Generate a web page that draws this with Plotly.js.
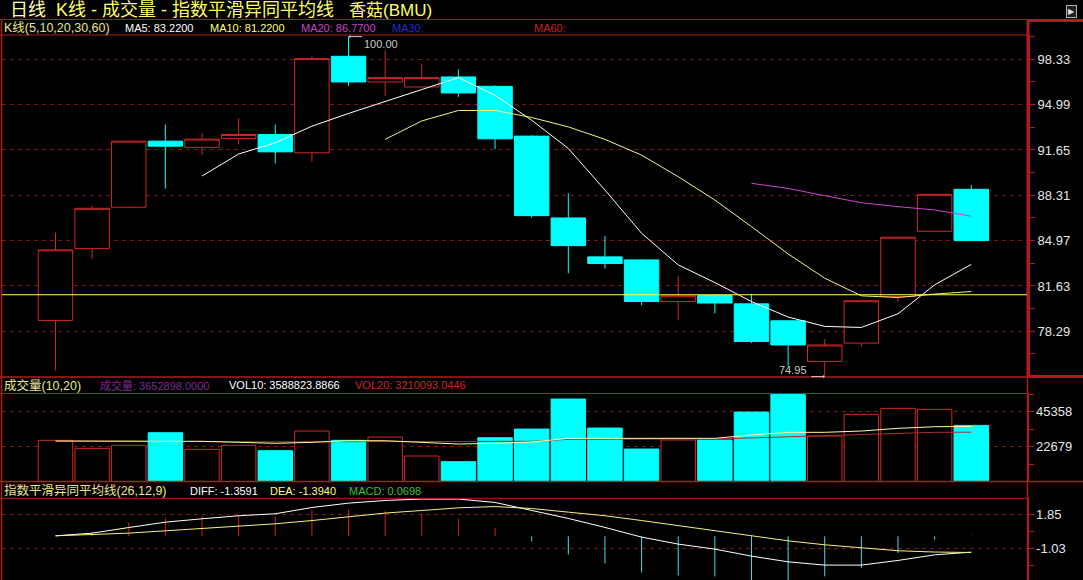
<!DOCTYPE html>
<html><head><meta charset="utf-8">
<script src="https://cdn.plot.ly/plotly-3.0.1.min.js"></script>
<style>html,body{margin:0;padding:0;background:#000;overflow:hidden}#chart{width:1083px;height:580px}</style>
</head><body><div id="chart"></div>
<script>
// ---------- data ----------
const open  = [79.09,84.38,87.43,92.30,91.84,92.50,92.79,91.44,98.55,96.66,96.29,97.03,96.34,92.67,86.64,83.77,83.55,80.48,80.93,80.31,79.06,76.07,77.42,80.85,85.66,88.75];
const high  = [85.56,87.54,92.35,93.53,92.91,93.97,93.53,98.55,100.00,98.99,98.01,97.59,96.40,92.72,88.45,85.32,83.60,82.37,80.98,81.05,79.10,77.72,80.60,85.25,88.40,89.07];
const low   = [75.41,83.60,87.40,88.79,91.29,92.06,90.66,90.78,96.37,95.63,96.25,95.56,91.71,86.66,82.57,82.91,80.22,79.09,79.60,77.42,75.70,74.95,77.17,80.48,85.60,84.95];
const close = [84.29,87.35,92.30,91.93,92.45,92.79,91.51,98.38,96.66,96.98,96.98,95.85,92.47,86.81,84.60,83.28,80.48,80.90,80.37,77.54,77.28,77.28,80.54,85.22,88.38,84.97];
const ma5  = [null,null,null,null,89.73,91.35,92.18,93.40,94.34,95.24,96.10,96.98,95.68,93.84,91.76,88.70,85.51,83.18,81.88,80.48,79.34,78.65,78.57,79.58,81.71,83.22];
const ma10 = [null,null,null,null,null,null,null,null,null,92.43,93.79,94.56,94.56,94.04,93.35,92.43,91.27,89.68,87.96,86.00,83.99,82.20,80.90,80.78,81.03,81.22];
const ma20 = [null,null,null,null,null,null,null,null,null,null,null,null,null,null,null,null,null,null,null,89.19,88.82,88.28,87.76,87.47,87.23,86.77];
const refPrice = 80.98;
// volume (in hundreds, as on the axis)
const vol   = [26800,21600,23550,31750,20950,23550,20050,32850,26800,28950,16600,12900,28500,34150,53700,34800,21150,27000,27000,45230,56698,29600,43730,47630,46980,36529];
const vol10 = [26360,26360,26300,26160,26160,25510,24860,25510,26550,26550,25510,24400,24860,25700,28100,28100,27660,27660,28100,30260,32020,32020,32870,34620,35660,35888];
const vol20 = [26360,26200,26100,26000,25950,25900,25850,25900,26000,26050,26000,25900,25950,26160,27460,27660,27660,27660,27660,28310,28960,29610,30460,31370,32020,32101];
// MACD
const diff = [0.04,0.27,0.75,1.21,1.50,1.76,1.93,2.47,2.84,3.07,3.19,3.19,2.90,2.20,1.53,0.76,-0.07,-0.67,-1.10,-1.70,-2.19,-2.47,-2.47,-2.07,-1.59,-1.36];
const dea  = [0.04,0.13,0.27,0.47,0.67,0.87,1.07,1.35,1.70,1.99,2.21,2.44,2.55,2.38,2.07,1.76,1.35,0.90,0.47,0.04,-0.39,-0.73,-1.01,-1.24,-1.35,-1.39];
const macd = [0,0.33,1.18,1.56,1.76,1.82,1.70,2.27,2.27,2.16,1.93,1.50,0.73,-0.44,-1.56,-2.33,-3.10,-3.36,-3.44,-3.90,-4.00,-3.44,-2.73,-1.44,-0.30,0.07];
// tick labels
const priceTicks = [78.29,81.63,84.97,88.31,91.65,94.99,98.33];
const volTicks = [22679,45358];
const macdTicks = [-1.03,1.85];
const days = open.map((_, i) => i);

// ---------- styles ----------
const W = 1083, H = 580;
const RED = '#d02828', CYAN = '#00ffff', BORDER = '#b01c1c', GRID = '#7e1818';
const FONT = 'Liberation Sans, Arial, Noto Sans CJK SC, sans-serif';
const px = x => x / W, py = y => 1 - y / H;

const up = days.map(i => close[i] >= open[i]);
const mids = t => { const r = []; for (let i = 0; i < t.length; i++) { const d = i ? t[i]-t[i-1] : t[1]-t[0]; r.push(+(t[i]-d/2).toFixed(3)); } r.push(+(t[t.length-1] + (t[1]-t[0])/2).toFixed(3)); return r; };

const traces = [];
traces.push({type:'candlestick', x:days, open, high, low, close, xaxis:'x', yaxis:'y',
  increasing:{line:{color:RED,width:1}, fillcolor:'#000000'},
  decreasing:{line:{color:CYAN,width:1}, fillcolor:CYAN},
  whiskerwidth:0, hoverinfo:'skip'});
const line = (y, color, ax) => ({type:'scatter', mode:'lines', x:days, y, yaxis:ax, line:{color, width:1}, hoverinfo:'skip', connectgaps:false});
traces.push(line(ma5, '#ffffff', 'y'));
traces.push(line(ma10, '#f4f47a', 'y'));
traces.push(line(ma20, '#d040d0', 'y'));
traces.push({type:'bar', x:days, y:vol, yaxis:'y2',
  marker:{color: up.map(u => u ? '#000000' : CYAN), line:{color: up.map(u => u ? RED : CYAN), width:1}}, hoverinfo:'skip'});
traces.push(line(vol20, '#a83030', 'y2'));
traces.push(line(vol10, '#ffffa0', 'y2'));
// MACD histogram as thin vertical sticks
const stick = (sel, color) => {
  const xs = [], ys = [];
  days.forEach(i => { if (sel(macd[i])) { xs.push(i, i, null); ys.push(0, macd[i], null); } });
  return {type:'scatter', mode:'lines', x:xs, y:ys, yaxis:'y3', line:{color, width:1}, hoverinfo:'skip'};
};
traces.push(stick(v => v > 0, '#c82020'));
traces.push(stick(v => v < 0, '#40e0e0'));
traces.push(line(diff, '#ffffff', 'y3'));
traces.push(line(dea, '#f4f47a', 'y3'));

const yax = (domain, range, ticks, lw) => ({
  domain, range, side:'right', anchor:'x', showgrid:true, gridcolor:GRID, griddash:'4px,4px', gridwidth:1,
  zeroline:false, showline:true, linecolor:BORDER, linewidth:lw, ticks:'outside', ticklen:5, tickwidth:1, tickcolor:BORDER,
  tickmode:'array', tickvals:ticks, ticktext:ticks.map(String),
  minor:{tickvals:mids(ticks), ticks:'outside', ticklen:5, tickcolor:BORDER, showgrid:false},
  tickfont:{family:FONT, size:13, color:'#e6e6e6'}, fixedrange:true
});

const hl = (y, x0, x1, w) => ({type:'line', xref:'paper', yref:'paper', x0:px(x0), x1:px(x1), y0:py(y), y1:py(y), line:{color:BORDER, width:w}, layer:'above'});
const vl = (x, y0, y1, w) => ({type:'line', xref:'paper', yref:'paper', x0:px(x), x1:px(x), y0:py(y0), y1:py(y1), line:{color:BORDER, width:w}, layer:'above'});
const shapes = [
  hl(19.5, 0, 1027, 1), hl(20.5, 1027, 1083, 3), vl(1028, 19, 377, 3),
  hl(35, 0, 1027, 1), hl(377, 0, 1027, 1.5), hl(376.5, 1027, 1083, 3),
  hl(393.5, 0, 1027, 1), hl(481.5, 0, 1083, 1.5), hl(498.3, 0, 1027, 1),
  vl(1.5, 19, 580, 1.5), vl(1027.5, 377, 580, 1.5),
  {type:'line', xref:'paper', yref:'y', x0:px(2), x1:px(1027), y0:refPrice, y1:refPrice, line:{color:'#ffff60', width:1}, layer:'above'}
];

const txt = (x, y, text, color, size) => ({xref:'paper', yref:'paper', x:px(x), y:py(y), text, showarrow:false, xanchor:'left', yanchor:'middle', font:{family:FONT, size, color}, borderpad:0});
const hiIdx = high.indexOf(Math.max(...high));
const loIdx = low.indexOf(Math.min(...low));
const annotations = [
  txt(9, 10, '日线', '#ffffa8', 18),
  txt(55, 10, 'K线 - 成交量 - 指数平滑异同平均线', '#ffff66', 18),
  txt(348, 10, '香菇(BMU)', '#ffff66', 17),
  txt(3, 27.5, 'K线(5,10,20,30,60)', '#e8e890', 12.5),
  txt(124, 27.5, 'MA5: 83.2200', '#ffffff', 11),
  txt(209, 27.5, 'MA10: 81.2200', '#ffff80', 11),
  txt(300, 27.5, 'MA20: 86.7700', '#c844c8', 11),
  txt(391, 27.5, 'MA30:', '#2a2ad0', 11),
  txt(533, 27.5, 'MA60:', '#c82020', 11),
  txt(3, 385, '成交量(10,20)', '#e8e890', 12.5),
  txt(99, 385, '成交量: 3652898.0000', '#7a2c96', 11),
  txt(228, 385, 'VOL10: 3588823.8866', '#ffffff', 11),
  txt(354, 385, 'VOL20: 3210093.0446', '#c82828', 11),
  txt(3, 490.5, '指数平滑异同平均线(26,12,9)', '#e8e890', 12.5),
  txt(189, 490.5, 'DIFF: -1.3591', '#ffffff', 11),
  txt(269, 490.5, 'DEA: -1.3940', '#ffff80', 11),
  txt(348, 490.5, 'MACD: 0.0698', '#34c034', 11),
  {xref:'x', yref:'y', x:hiIdx, y:high[hiIdx], text:' ', font:{size:1}, showarrow:true, ax:15, ay:0, axref:'pixel', ayref:'pixel', arrowhead:1, arrowsize:0.6, arrowwidth:1, arrowcolor:'#c8c8c8', standoff:0},
  {xref:'x', yref:'y', x:hiIdx, y:high[hiIdx], text:high[hiIdx].toFixed(2), showarrow:false, xanchor:'left', yanchor:'middle', xshift:13, yshift:-7, font:{family:FONT, size:11, color:'#c8c8c8'}},
  {xref:'x', yref:'y', x:loIdx, y:low[loIdx], text:' ', font:{size:1}, showarrow:true, ax:-15, ay:0, axref:'pixel', ayref:'pixel', arrowhead:1, arrowsize:0.6, arrowwidth:1, arrowcolor:'#c8c8c8', standoff:0},
  {xref:'x', yref:'y', x:loIdx, y:low[loIdx], text:low[loIdx].toFixed(2), showarrow:false, xanchor:'right', yanchor:'middle', xshift:-16, yshift:7, font:{family:FONT, size:11, color:'#c8c8c8'}},
  {xref:'paper', yref:'paper', x:px(1077), y:py(5), text:'▶', showarrow:false, font:{family:'DejaVu Sans', size:8, color:'#e0e0e0'}, bordercolor:'#b0b0b0', borderwidth:1, borderpad:1, bgcolor:'#202020'}
];

const layout = {
  width:W, height:H, margin:{l:0, r:0, t:0, b:0, pad:0},
  paper_bgcolor:'#000000', plot_bgcolor:'#000000', showlegend:false, hovermode:false,
  boxgap:0.06, boxgroupgap:0, bargap:0.06,
  xaxis:{domain:[px(2), px(1027)], range:[-1.4606, 26.522], showgrid:false, zeroline:false, showticklabels:false, ticks:'', showline:false, rangeslider:{visible:false}, fixedrange:true},
  yaxis: yax([py(377), py(35)], [74.92, 100.12], priceTicks, 3),
  yaxis2: yax([py(481.5), py(393.5)], [0, 57300], volTicks, 1.5),
  yaxis3: yax([0, py(498.3)], [-3.747, 3.256], macdTicks, 1.5),
  shapes, annotations
};
Plotly.newPlot('chart', traces, layout, {staticPlot:true, displayModeBar:false});
</script></body></html>
